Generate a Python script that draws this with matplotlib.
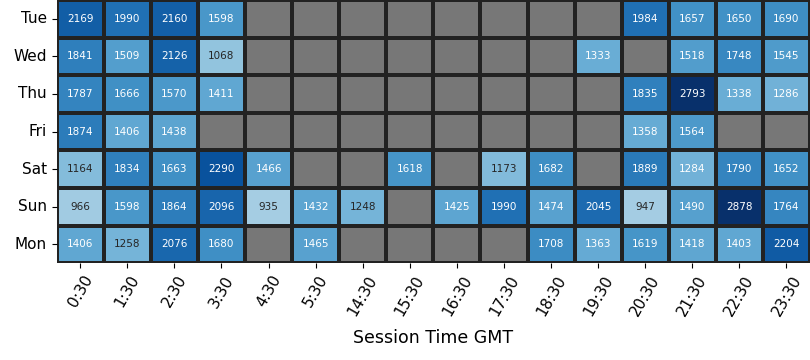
import numpy as np
import pandas as pd
import matplotlib
matplotlib.use("Agg")
import matplotlib.pyplot as plt
import seaborn as sns

nan = np.nan
days = ["Tue", "Wed", "Thu", "Fri", "Sat", "Sun", "Mon"]
times = ["0:30", "1:30", "2:30", "3:30", "4:30", "5:30", "14:30", "15:30",
         "16:30", "17:30", "18:30", "19:30", "20:30", "21:30", "22:30", "23:30"]

tue = [2169, 1990, 2160, 1598, nan, nan, nan, nan, nan, nan, nan, nan, 1984, 1657, 1650, 1690]
wed = [1841, 1509, 2126, 1068, nan, nan, nan, nan, nan, nan, nan, 1333, nan, 1518, 1748, 1545]
thu = [1787, 1666, 1570, 1411, nan, nan, nan, nan, nan, nan, nan, nan, 1835, 2793, 1338, 1286]
fri = [1874, 1406, 1438, nan, nan, nan, nan, nan, nan, nan, nan, nan, 1358, 1564, nan, nan]
sat = [1164, 1834, 1663, 2290, 1466, nan, nan, 1618, nan, 1173, 1682, nan, 1889, 1284, 1790, 1652]
sun = [966, 1598, 1864, 2096, 935, 1432, 1248, nan, 1425, 1990, 1474, 2045, 947, 1490, 2878, 1764]
mon = [1406, 1258, 2076, 1680, nan, 1465, nan, nan, nan, nan, 1708, 1363, 1619, 1418, 1403, 2204]

df = pd.DataFrame([tue, wed, thu, fri, sat, sun, mon], index=days, columns=times)

fig = plt.figure(figsize=(8.1, 3.6), dpi=100)
ax = fig.add_axes([0.070, 0.269, 0.930, 0.731])
ax.set_facecolor("#777777")
sns.heatmap(df, ax=ax, cmap="Blues", vmin=0, vmax=2640,
            annot=True, fmt=".0f", annot_kws={"fontsize": 7.5},
            linewidths=1.5, linecolor="#222222", cbar=False)
ax.set_xlabel("Session Time GMT", fontsize=12.5, labelpad=8)
ax.set_ylabel("")
ax.tick_params(axis="x", labelsize=11, labelrotation=60)
ax.tick_params(axis="y", labelsize=11, labelrotation=0)
fig.savefig("out.png", dpi=100)
